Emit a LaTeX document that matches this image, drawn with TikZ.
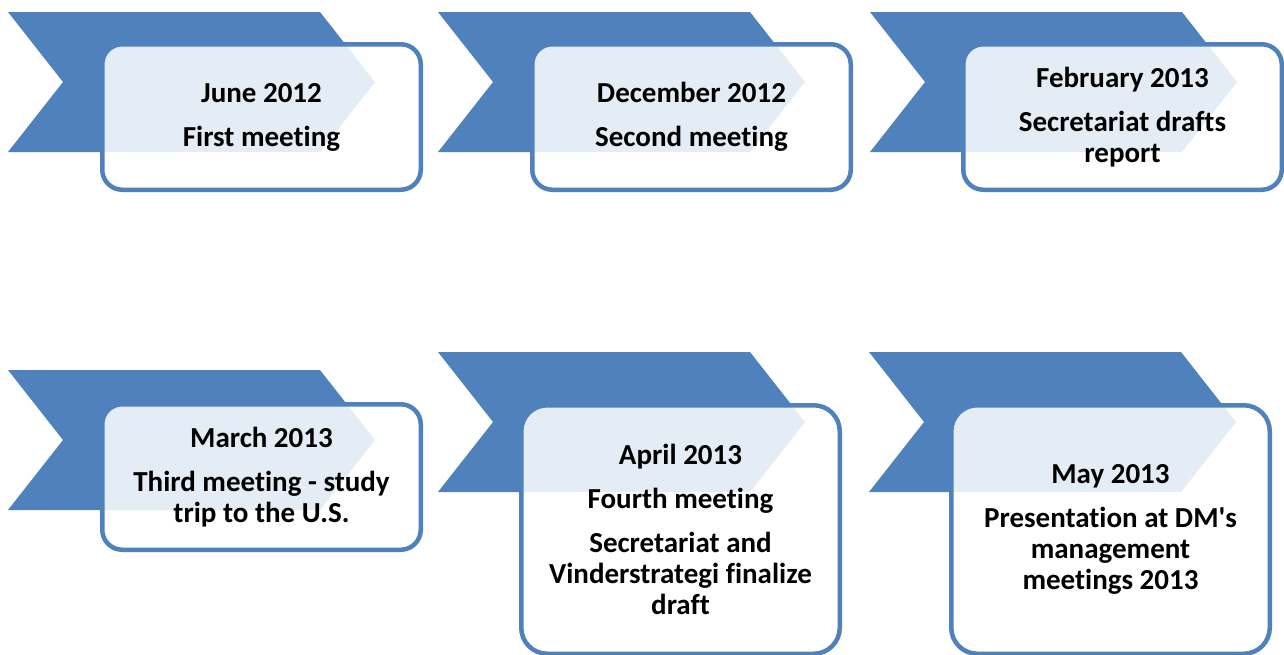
\documentclass[tikz,border=0pt]{standalone}
\usepackage{fontspec}
\setmainfont{Carlito}[Ligatures={NoCommon}]
\begin{document}
\definecolor{ribbon}{HTML}{4F81BD}
\begin{tikzpicture}[x=1pt,y=-1pt,
  chev/.style={fill=ribbon},
  card/.style={draw=ribbon, line width=4.5pt, fill=white, fill opacity=0.85,
    text opacity=1, rounded corners=20pt, align=center, inner sep=0pt,
    minimum width=318.5pt, minimum height=145.5pt,
    font=\bfseries\fontsize{29}{31}\selectfont},
  tallcard/.style={card, rounded corners=26pt, minimum height=248.5pt}]
\useasboundingbox (0,0) rectangle (1284,654);
\clip (0,0) rectangle (1284,654);

% ribbon chevrons behind the cards
\fill[chev] (8,12) -- (320,12) -- (375,82) -- (320,152) -- (8,152) -- (63,82) -- cycle;
\fill[chev, shift={(430,0)}] (8,12) -- (320,12) -- (375,82) -- (320,152) -- (8,152) -- (63,82) -- cycle;
\fill[chev, shift={(862,0)}] (8,12) -- (320,12) -- (375,82) -- (320,152) -- (8,152) -- (63,82) -- cycle;
\fill[chev, shift={(0,358)}] (8,12) -- (320,12) -- (375,82) -- (320,152) -- (8,152) -- (63,82) -- cycle;
\fill[chev, shift={(430,340)}] (8,12) -- (320,12) -- (375,82) -- (320,152) -- (8,152) -- (63,82) -- cycle;
\fill[chev, shift={(861,340)}] (8,12) -- (320,12) -- (375,82) -- (320,152) -- (8,152) -- (63,82) -- cycle;

% cards
\node[card] (c1) at (261.5,117) {June 2012\\[13pt]First meeting};
\node[card] (c2) at (691.5,117) {December 2012\\[13pt]Second meeting};
\node[card] (c3) at (1122.5,117) {February 2013\\[13pt]Secretariat drafts\\report};
\node[card] (c4) at (261.5,477) {March 2013\\[13pt]Third meeting - study\\trip to the U.S.};
\node[tallcard] (c5) at (680.5,529.5) {April 2013\\[13pt]Fourth meeting\\[13pt]Secretariat and\\Vinderstrategi finalize\\draft};
\node[tallcard] (c6) at (1110.5,529.5) {May 2013\\[13pt]Presentation at DM\textquotesingle s\\management\\meetings 2013};
\end{tikzpicture}
\end{document}
